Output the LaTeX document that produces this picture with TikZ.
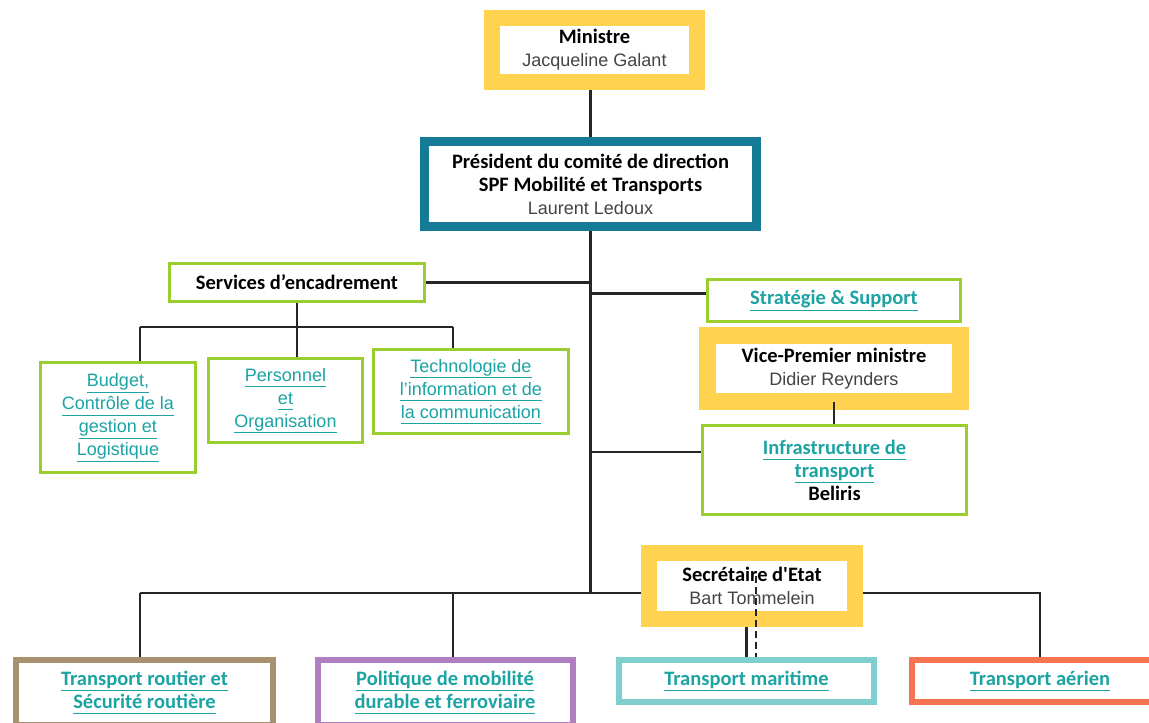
\documentclass[tikz,border=0pt]{standalone}
\usepackage{fontspec}
\setmainfont{Liberation Sans}
\newfontfamily\carl{Carlito}
\definecolor{jaune}{HTML}{FFD24F}
\definecolor{petrole}{HTML}{157A93}
\definecolor{vert}{HTML}{9ACD2E}
\definecolor{lienc}{HTML}{1CA3A3}
\definecolor{nom}{HTML}{444444}
\definecolor{brun}{HTML}{A8916F}
\definecolor{mauve}{HTML}{B07FC1}
\definecolor{turq}{HTML}{7FCFCF}
\definecolor{corail}{HTML}{F47350}
\newcommand{\lnk}[1]{\textcolor{lienc}{\underline{\vphantom{g}#1}}}
\newcommand{\titre}[1]{{\carl\bfseries\fontsize{20.5}{23}\selectfont #1}}
\tikzset{
 every node/.style={align=center, fill=white, inner sep=0pt, outer sep=auto},
 jbox/.style={draw=jaune, line width=16pt},
 pbox/.style={draw=petrole, line width=9pt},
 vbox/.style={draw=vert, line width=3pt},
 bbox/.style={line width=6pt},
 txt/.style={font=\fontsize{18}{23}\selectfont},
 trait/.style={line width=2.3pt, black!85}
}
\begin{document}
\begin{tikzpicture}[x=1pt,y=-1pt]
\useasboundingbox (0,0) rectangle (1149,723);
\node[jbox, minimum width=205pt, minimum height=64pt, txt] (ministre) at (594.5,50) {\titre{Ministre}\\\textcolor{nom}{Jacqueline Galant}};
\node[pbox, minimum width=332pt, minimum height=85pt, txt] (pres) at (590.5,184) {\titre{Président du comité de direction}\\\titre{SPF Mobilité et Transports}\\\textcolor{nom}{Laurent Ledoux}};
\node[vbox, minimum width=255pt, minimum height=38pt, txt] (serv) at (297,282.5) {\titre{Services d’encadrement}};
\node[vbox, minimum width=155pt, minimum height=110pt, txt] (budget) at (118,417.5) {\lnk{Budget,}\\\lnk{Contrôle de la}\\\lnk{gestion et}\\\lnk{Logistique}};
\node[vbox, minimum width=154pt, minimum height=84pt, txt] (perso) at (285.5,400.5) {\lnk{Personnel}\\\lnk{et}\\\lnk{Organisation}};
\node[vbox, minimum width=195pt, minimum height=84pt, txt] (techno) at (471,391.5) {\lnk{Technologie de}\\\lnk{l’information et de}\\\lnk{la communication}};
\node[vbox, minimum width=253pt, minimum height=42pt, txt] (strat) at (834,300.5) {\lnk{\titre{Stratégie \& Support}}};
\node[jbox, line width=16.5pt, minimum width=253pt, minimum height=66pt, txt] (vpm) at (834,368.5) {\titre{Vice-Premier ministre}\\\textcolor{nom}{Didier Reynders}};
\node[vbox, minimum width=264pt, minimum height=89pt, txt] (infra) at (834.5,470) {\lnk{\titre{Infrastructure de}}\\\lnk{\titre{transport}}\\\titre{Beliris}};
\node[jbox, minimum width=206pt, minimum height=66pt, txt] (secr) at (752,586) {\titre{Secrétaire d'Etat}\\\textcolor{nom}{Bart Tommelein}};
\node[bbox, draw=brun, minimum width=257pt, minimum height=65pt, txt] (route) at (144.5,692.5) {\lnk{\titre{Transport routier et}}\\\lnk{\titre{Sécurité routière}}};
\node[bbox, draw=mauve, minimum width=255pt, minimum height=65pt, txt] (poli) at (445,692.5) {\lnk{\titre{Politique de mobilité}}\\\lnk{\titre{durable et ferroviaire}}};
\node[bbox, draw=turq, minimum width=255pt, minimum height=42pt, txt] (mari) at (746.5,681) {\lnk{\titre{Transport maritime}}};
\node[bbox, draw=corail, minimum width=256pt, minimum height=42pt, txt] (aerien) at (1040,681) {\lnk{\titre{Transport aérien}}};
\coordinate (busg) at (140,593);
\coordinate (busm) at (453,593);
\coordinate (busd) at (1040,593);
\coordinate (sg) at (140,327);
\coordinate (sd) at (453,327);
\draw[trait] (pres.north) -- (pres.north |- ministre.south);
\draw[trait] (pres.south) -- (pres.south |- busg);
\draw[trait] (busg) -- (secr.west |- busg);
\draw[trait] (busg) -- (busg |- route.north);
\draw[trait] (busm) -- (busm |- poli.north);
\draw[trait] (secr.east |- busd) -- (busd) -- (aerien.north);
\draw[trait] (serv.east) -- (serv.east -| pres.south);
\draw[trait] (serv.south) -- (serv.south |- sg);
\draw[trait] (sg) -- (sd);
\draw[trait] (sg) -- (sg |- budget.north);
\draw[trait] (serv.south |- sg) -- (serv.south |- perso.north);
\draw[trait] (sd) -- (sd |- techno.north);
\draw[trait] ([yshift=7pt]strat.west) -- ([yshift=7pt]strat.west -| pres.south);
\draw[trait] ([yshift=18pt]infra.west) -- ([yshift=18pt]infra.west -| pres.south);
\draw[trait] ([yshift=8pt]vpm.south) -- (vpm.south |- infra.north);
\draw[trait] (mari.north) -- (mari.north |- secr.south);
\draw[trait, dash pattern=on 7pt off 4pt] ([xshift=4pt,yshift=10pt]secr.center) -- ([xshift=4pt]secr.center |- mari.north);
\end{tikzpicture}
\end{document}
